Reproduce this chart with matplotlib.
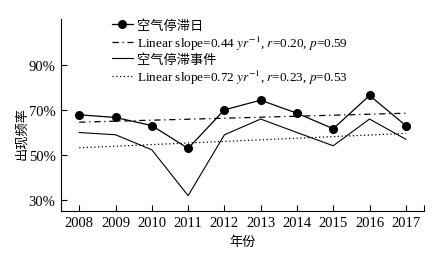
import matplotlib
matplotlib.use("Agg")
import matplotlib.pyplot as plt
from matplotlib.ticker import FuncFormatter

plt.rcParams['font.family'] = ['Liberation Serif', 'Noto Sans CJK SC', 'DejaVu Sans']
plt.rcParams['mathtext.fontset'] = 'stix'

# Data
years = [2008, 2009, 2010, 2011, 2012, 2013, 2014, 2015, 2016, 2017]
stagnation_days = [67.8, 66.6, 63.0, 52.8, 70.0, 74.3, 68.5, 61.6, 76.4, 63.0]
stagnation_events = [59.9, 58.9, 52.2, 31.8, 58.9, 65.9, 59.9, 54.0, 65.9, 56.9]
trend_years = [2008, 2017]
trend_days = [64.5, 68.5]
trend_events = [53.1, 59.5]
yticks = [30, 50, 70, 90]

fig = plt.figure(figsize=(4.43, 2.55), dpi=100)
ax = fig.add_axes([0.138, 0.169, 0.819, 0.753])

ax.plot(years, stagnation_days, color='black', lw=0.9, marker='o', ms=5.5,
        label='空气停滞日')
ax.plot(trend_years, trend_days, color='black', lw=0.9, ls=(0, (5, 3, 1, 3)),
        label=r'Linear slope=0.44 $\mathit{yr}^{-1}$, $\mathit{r}$=0.20, $\mathit{p}$=0.59')
ax.plot(years, stagnation_events, color='black', lw=0.8, label='空气停滞事件')
ax.plot(trend_years, trend_events, color='black', lw=0.9, ls=(0, (1, 2)),
        label=r'Linear slope=0.72 $\mathit{yr}^{-1}$, $\mathit{r}$=0.23, $\mathit{p}$=0.53')

ax.set_xlim(2007.5, 2017.5)
ax.set_ylim(25, 110.5)
ax.set_xticks(years)
ax.set_yticks(yticks)
ax.yaxis.set_major_formatter(FuncFormatter(lambda v, p: f"{v:.0f}%"))
ax.tick_params(direction='in', length=4, width=0.8, labelsize=10.5, pad=4)
ax.set_xticks([2017.5], minor=True)
ax.tick_params(which='minor', direction='in', length=4, width=0.8)

for s in ['top', 'right']:
    ax.spines[s].set_visible(False)
for s in ['left', 'bottom']:
    ax.spines[s].set_linewidth(0.8)

ax.set_xlabel('年份', fontsize=9.5, labelpad=4)
ax.set_ylabel('出现频率', fontsize=9.5)
ax.yaxis.set_label_coords(-0.09, 0.41)

ax.legend(loc='upper left', bbox_to_anchor=(0.125, 1.025), frameon=False,
          fontsize=9.5, handlelength=1.6, handletextpad=0.3, labelspacing=0.12,
          borderaxespad=0)

fig.savefig('out.png', dpi=100)
